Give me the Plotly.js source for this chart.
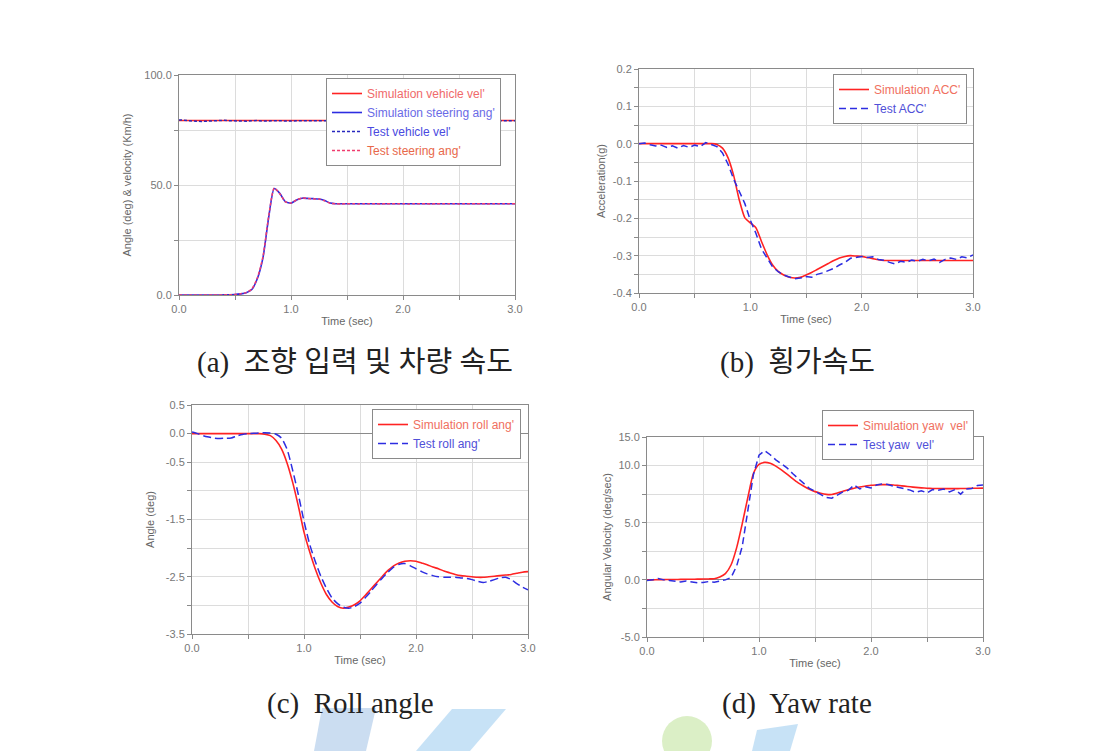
<!DOCTYPE html>
<html>
<head>
<meta charset="utf-8">
<script src="https://cdn.plot.ly/plotly-3.0.1.min.js"></script>
<style>html,body{margin:0;padding:0;background:#fff;}#chart{width:1106px;height:751px;}</style>
</head>
<body>
<div id="chart"></div>
<script>
// ---------- data ----------
const T = [0.00,0.05,0.10,0.15,0.20,0.25,0.30,0.35,0.40,0.45,0.50,0.55,0.60,0.65,0.70,0.75,0.80,0.85,0.90,0.95,
  1.00,1.05,1.10,1.15,1.20,1.25,1.30,1.35,1.40,1.45,1.50,1.55,1.60,1.65,1.70,1.75,1.80,1.85,1.90,1.95,
  2.00,2.05,2.10,2.15,2.20,2.25,2.30,2.35,2.40,2.45,2.50,2.55,2.60,2.65,2.70,2.75,2.80,2.85,2.90,2.95,3.00];

// (a) steering input & vehicle speed
const simVehicleVel = [79.3,79.3,79.3,79.3,79.3,79.3,79.3,79.3,79.3,79.3,79.3,79.3,79.3,79.3,79.3,79.3,79.3,79.3,79.3,79.3,
  79.3,79.3,79.3,79.3,79.3,79.3,79.3,79.3,79.3,79.3,79.3,79.3,79.3,79.3,79.3,79.3,79.3,79.3,79.3,79.3,
  79.3,79.3,79.3,79.3,79.3,79.3,79.3,79.3,79.3,79.3,79.3,79.3,79.3,79.3,79.3,79.3,79.3,79.3,79.3,79.3,79.3];
const testVehicleVel = [79.6,79.3,79.1,79.0,78.9,79.1,79.3,79.2,79.4,79.2,79.3,79.1,79.0,79.2,79.3,79.1,79.2,79.3,79.2,79.1,
  79.2,79.3,79.1,79.2,79.2,79.3,79.1,79.2,79.3,79.2,79.1,79.2,79.3,79.2,79.2,79.1,79.3,79.2,79.2,79.1,
  79.2,79.3,79.2,79.1,79.2,79.2,79.3,79.2,79.1,79.2,79.2,79.3,79.2,79.2,79.1,79.2,79.3,79.2,79.2,79.3,79.2];
const simSteeringAng = [0,0,0,0,0,0,0,0,0.05,0.1,0.2,0.5,1.0,2.5,7.5,17,35,48.4,46.2,42.4,
  41.7,43.2,44.0,43.9,43.8,43.6,42.9,41.8,41.5,41.5,41.5,41.5,41.5,41.5,41.5,41.5,41.5,41.5,41.5,41.5,
  41.5,41.5,41.5,41.5,41.5,41.5,41.5,41.5,41.5,41.5,41.5,41.5,41.5,41.5,41.5,41.5,41.5,41.5,41.5,41.5,41.5];
const testSteeringAng = [0,0,0,0,0,0,0,0,0.05,0.1,0.25,0.6,1.1,2.7,7.8,17.5,35.5,48.6,46.0,42.3,
  41.8,43.3,44.1,43.9,43.7,43.6,42.8,41.7,41.5,41.4,41.5,41.5,41.4,41.5,41.5,41.5,41.4,41.5,41.5,41.5,
  41.5,41.4,41.5,41.5,41.5,41.4,41.5,41.5,41.5,41.5,41.4,41.5,41.5,41.5,41.5,41.4,41.5,41.5,41.5,41.5,41.5];

// (b) lateral acceleration (g)
const simAcc = [0,0,0,0,0,0,0,0,0,0,0,0,0,0,-0.002,-0.012,-0.038,-0.085,-0.15,-0.198,
  -0.212,-0.225,-0.262,-0.297,-0.325,-0.342,-0.352,-0.358,-0.36,-0.358,-0.352,-0.345,-0.337,-0.329,-0.321,-0.313,-0.306,-0.302,-0.300,-0.301,
  -0.302,-0.305,-0.308,-0.311,-0.313,-0.313,-0.313,-0.313,-0.313,-0.313,-0.313,-0.313,-0.313,-0.313,-0.313,-0.313,-0.313,-0.313,-0.313,-0.313,-0.313];
const testAcc = [0.0,0.002,-0.003,-0.006,-0.004,-0.01,-0.006,-0.012,-0.005,-0.01,-0.004,-0.008,0.003,-0.003,-0.008,-0.025,-0.055,-0.095,-0.13,-0.16,
  -0.205,-0.24,-0.282,-0.306,-0.33,-0.343,-0.352,-0.357,-0.362,-0.36,-0.356,-0.358,-0.35,-0.346,-0.34,-0.334,-0.325,-0.318,-0.307,-0.304,
  -0.302,-0.305,-0.303,-0.31,-0.312,-0.318,-0.322,-0.315,-0.318,-0.312,-0.315,-0.31,-0.314,-0.309,-0.318,-0.31,-0.306,-0.31,-0.303,-0.306,-0.298];

// (c) roll angle (deg)
const simRoll = [0,0,0,0,0,0,0,0,0,0,0,0,0,-0.01,-0.035,-0.12,-0.27,-0.52,-0.86,-1.27,
  -1.72,-2.06,-2.36,-2.61,-2.81,-2.94,-3.02,-3.05,-3.03,-2.99,-2.92,-2.82,-2.71,-2.6,-2.49,-2.39,-2.31,-2.26,-2.23,-2.22,
  -2.23,-2.26,-2.29,-2.33,-2.36,-2.4,-2.43,-2.46,-2.48,-2.49,-2.5,-2.51,-2.51,-2.5,-2.49,-2.48,-2.47,-2.46,-2.44,-2.42,-2.41];
const testRoll = [0.03,0.0,-0.035,-0.06,-0.08,-0.085,-0.08,-0.075,-0.04,-0.015,0.0,0.005,0.01,0.015,0.01,-0.01,-0.08,-0.28,-0.65,-1.07,
  -1.53,-1.93,-2.23,-2.49,-2.7,-2.87,-2.97,-3.03,-3.05,-3.02,-2.96,-2.86,-2.75,-2.63,-2.52,-2.42,-2.33,-2.28,-2.27,-2.31,
  -2.36,-2.41,-2.45,-2.48,-2.5,-2.51,-2.51,-2.51,-2.52,-2.53,-2.55,-2.58,-2.6,-2.58,-2.55,-2.52,-2.51,-2.55,-2.62,-2.68,-2.73];

// (d) yaw rate (deg/sec)
const simYaw = [0,0,0.02,0.02,0.03,0.03,0.04,0.05,0.05,0.06,0.07,0.08,0.1,0.25,0.55,1.3,2.8,4.9,7.2,9.3,
  10.1,10.28,10.2,9.95,9.62,9.25,8.85,8.48,8.19,7.92,7.72,7.58,7.48,7.47,7.6,7.75,7.9,8.02,8.12,8.2,
  8.28,8.31,8.33,8.33,8.3,8.25,8.2,8.14,8.09,8.05,8.02,8.0,7.99,7.98,7.98,7.98,7.99,8.0,8.01,8.02,8.03];
const testYaw = [-0.05,0.0,0.12,0.0,-0.05,-0.1,-0.18,-0.1,-0.2,-0.25,-0.23,-0.15,-0.2,-0.1,0.0,0.2,1.2,2.9,6.2,9.2,
  10.9,11.3,10.95,10.5,10.15,9.8,9.3,8.85,8.4,8.0,7.75,7.5,7.2,7.15,7.45,7.7,7.85,8.3,7.95,8.15,
  8.05,8.3,8.4,8.35,8.2,8.1,7.95,7.85,7.65,7.8,7.6,7.9,7.85,7.95,7.7,7.9,7.5,7.95,8.0,8.25,8.3];

const xTickVals = [0,0.5,1,1.5,2,2.5,3];
const xTickText = ['0.0','','1.0','','2.0','','3.0'];
const captions = ['(a)  조향 입력 및 차량 속도','(b)  횡가속도','(c)  Roll angle','(d)  Yaw rate'];

// ---------- styling ----------
const W = 1106, H = 751;
const RED = 'rgb(255,35,35)', BLUE = 'rgb(45,45,225)';
const tickFont = {family:'Liberation Sans, Arial, sans-serif', size:11, color:'#777'};
const titleFont = {family:'Liberation Sans, Arial, sans-serif', size:11, color:'#666'};
function dx(a,b){return [a/W, b/W];}
function dy(top,bot){return [1-bot/H, 1-top/H];}

function xaxis(dom, anchor){
  return {domain:dom, anchor:anchor, range:[0,3], tickvals:xTickVals, ticktext:xTickText,
    showgrid:true, gridcolor:'#dcdcdc', gridwidth:1, zeroline:false,
    showline:true, linecolor:'#8a8a8a', linewidth:1, mirror:true,
    ticks:'outside', ticklen:4, tickcolor:'#8a8a8a', tickfont:tickFont,
    title:{text:'Time (sec)', font:titleFont, standoff:3}, automargin:false};
}
function yaxis(dom, anchor, range, tv, tt, title, standoff, zl){
  return {domain:dom, anchor:anchor, range:range, tickvals:tv, ticktext:tt,
    showgrid:true, gridcolor:'#dcdcdc', gridwidth:1,
    zeroline:zl, zerolinecolor:'#8a8a8a', zerolinewidth:1,
    showline:true, linecolor:'#8a8a8a', linewidth:1, mirror:true,
    ticks:'outside', ticklen:4, tickcolor:'#8a8a8a', tickfont:tickFont,
    title:{text:title, font:titleFont, standoff:standoff}, automargin:false};
}
function leg(x, yTop){
  return {x:x/W, y:1-yTop/H, xanchor:'left', yanchor:'top', bgcolor:'#fff',
    bordercolor:'#8a8a8a', borderwidth:1, font:{family:'Liberation Sans, Arial, sans-serif', size:12},
    tracegroupgap:0, itemwidth:30};
}
function col(txt,c){return '<span style="color:'+c+'">'+txt+'</span>';}

const traces = [
  // (a)
  {x:T, y:simVehicleVel, xaxis:'x', yaxis:'y', legend:'legend', mode:'lines', line:{color:RED,width:1.6},
   name:col("Simulation vehicle vel'",'#f06a6a')},
  {x:T, y:simSteeringAng, xaxis:'x', yaxis:'y', legend:'legend', mode:'lines', line:{color:BLUE,width:1.6,shape:'spline',smoothing:0.6},
   name:col("Simulation steering ang'",'#6a6ae6')},
  {x:T, y:testVehicleVel, xaxis:'x', yaxis:'y', legend:'legend', mode:'lines', line:{color:'rgb(40,40,190)',width:1.5,dash:'3px,2px'},
   name:col("Test vehicle vel'",'#4a4ae0')},
  {x:T, y:testSteeringAng, xaxis:'x', yaxis:'y', legend:'legend', mode:'lines', line:{color:'rgb(240,60,110)',width:1.5,dash:'3px,2px',shape:'spline',smoothing:0.6},
   name:col("Test steering ang'",'#e8684a')},
  // (b)
  {x:T, y:simAcc, xaxis:'x2', yaxis:'y2', legend:'legend2', mode:'lines', line:{color:RED,width:1.6,shape:'spline',smoothing:0.6},
   name:col("Simulation ACC'",'#f07060')},
  {x:T, y:testAcc, xaxis:'x2', yaxis:'y2', legend:'legend2', mode:'lines', line:{color:BLUE,width:1.5,dash:'7px,4px'},
   name:col("Test ACC'",'#5050d8')},
  // (c)
  {x:T, y:simRoll, xaxis:'x3', yaxis:'y3', legend:'legend3', mode:'lines', line:{color:RED,width:1.6,shape:'spline',smoothing:0.6},
   name:col("Simulation roll ang'",'#f07060')},
  {x:T, y:testRoll, xaxis:'x3', yaxis:'y3', legend:'legend3', mode:'lines', line:{color:BLUE,width:1.5,dash:'8px,4px',shape:'spline',smoothing:0.6},
   name:col("Test roll ang'",'#5050d8')},
  // (d)
  {x:T, y:simYaw, xaxis:'x4', yaxis:'y4', legend:'legend4', mode:'lines', line:{color:RED,width:1.6,shape:'spline',smoothing:0.6},
   name:col("Simulation yaw  vel'",'#f07060')},
  {x:T, y:testYaw, xaxis:'x4', yaxis:'y4', legend:'legend4', mode:'lines', line:{color:BLUE,width:1.5,dash:'7px,4px'},
   name:col("Test yaw  vel'",'#5050d8')}
];

const capFont = {family:'Liberation Serif, Noto Sans CJK KR, serif', size:29, color:'#222'};
const layout = {
  width:W, height:H, autosize:false, margin:{l:0,r:0,t:0,b:0},
  paper_bgcolor:'#fff', plot_bgcolor:'#fff', showlegend:true,
  xaxis: xaxis(dx(179,515),'y'),
  yaxis: yaxis(dy(75,295),'x',[0,100],[0,25,50,75,100],['0.0','','50.0','','100.0'],'Angle (deg) & velocity (Km/h)',10,false),
  xaxis2: xaxis(dx(639,973),'y2'),
  yaxis2: yaxis(dy(69,293),'x2',[-0.4,0.2],[-0.4,-0.35,-0.3,-0.25,-0.2,-0.15,-0.1,-0.05,0,0.05,0.1,0.15,0.2],
     ['-0.4','','-0.3','','-0.2','','-0.1','','0.0','','0.1','','0.2'],'Acceleration(g)',4,true),
  xaxis3: xaxis(dx(192,528),'y3'),
  yaxis3: yaxis(dy(405,634),'x3',[-3.5,0.5],[-3.5,-3,-2.5,-2,-1.5,-1,-0.5,0,0.5],
     ['-3.5','','-2.5','','-1.5','','-0.5','0.0','0.5'],'Angle (deg)',8,true),
  xaxis4: xaxis(dx(647,983),'y4'),
  yaxis4: yaxis(dy(437,637),'x4',[-5,12.5],[-5,-2.5,0,2.5,5,7.5,10,12.5],
     ['-5.0','','0.0','','5.0','','10.0','15.0'],'Angular Velocity (deg/sec)',4,true),
  legend: leg(326,78),
  legend2: leg(833,74),
  legend3: leg(372,409),
  legend4: leg(822,410),
  annotations: [
    {text:captions[0], x:355/W, y:1-362/H, xref:'paper', yref:'paper', showarrow:false, font:capFont, xanchor:'center', yanchor:'middle'},
    {text:captions[1], x:797/W, y:1-362/H, xref:'paper', yref:'paper', showarrow:false, font:capFont, xanchor:'center', yanchor:'middle'},
    {text:captions[2], x:350/W, y:1-703/H, xref:'paper', yref:'paper', showarrow:false, font:capFont, xanchor:'center', yanchor:'middle'},
    {text:captions[3], x:797/W, y:1-703/H, xref:'paper', yref:'paper', showarrow:false, font:capFont, xanchor:'center', yanchor:'middle'}
  ],
  shapes: [
    {type:'path', xref:'paper', yref:'paper', layer:'below', line:{width:0}, fillcolor:'rgba(140,180,225,0.45)',
     path:'M '+(322/W)+','+(1-708/H)+' L '+(376/W)+','+(1-708/H)+' L '+(366/W)+','+(1-751/H)+' L '+(314/W)+','+(1-751/H)+' Z'},
    {type:'path', xref:'paper', yref:'paper', layer:'below', line:{width:0}, fillcolor:'rgba(130,190,235,0.45)',
     path:'M '+(452/W)+','+(1-709/H)+' L '+(506/W)+','+(1-709/H)+' L '+(470/W)+','+(1-751/H)+' L '+(416/W)+','+(1-751/H)+' Z'},
    {type:'circle', xref:'paper', yref:'paper', layer:'below', line:{width:0}, fillcolor:'rgba(195,228,160,0.6)',
     x0:662/W, x1:712/W, y0:1-766/H, y1:1-716/H},
    {type:'path', xref:'paper', yref:'paper', layer:'below', line:{width:0}, fillcolor:'rgba(130,190,235,0.45)',
     path:'M '+(757/W)+','+(1-730/H)+' L '+(798/W)+','+(1-724/H)+' L '+(790/W)+','+(1-751/H)+' L '+(752/W)+','+(1-751/H)+' Z'}
  ]
};

Plotly.newPlot('chart', traces, layout, {staticPlot:true, displayModeBar:false});
</script>
</body>
</html>
